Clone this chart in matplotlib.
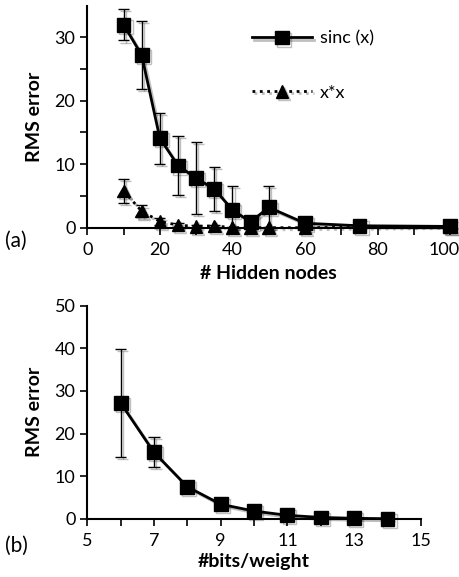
import numpy as np
import matplotlib
matplotlib.use("Agg")
import matplotlib.pyplot as plt
import matplotlib.patheffects as pe
from matplotlib.transforms import ScaledTranslation

plt.rcParams["font.family"] = ["Lato", "DejaVu Sans"]

# panel (a)
nodos = [10, 15, 20, 25, 30, 35, 40, 45, 50, 60, 75, 100]
sinc_err = [32.0, 27.2, 14.1, 9.8, 7.8, 6.1, 2.8, 0.9, 3.2, 0.7, 0.3, 0.2]
sinc_std = [2.5, 5.4, 4.0, 4.6, 5.7, 3.5, 3.8, 0.5, 3.4, 0.3, 0.2, 0.1]

nodos_xx = [10, 15, 20, 25, 30, 35, 40, 45, 50, 60, 100]
xx_err = [5.8, 2.6, 1.0, 0.4, 0.2, 0.3, 0.0, 0.0, 0.0, 0.0, 0.2]
xx_std = [1.9, 0.9, 0.6, 0.3, 0.2, 0.2, 0.1, 0.1, 0.1, 0.1, 0.1]

# panel (b)
bits = [6, 7, 8, 9, 10, 11, 12, 13, 14]
bits_err = [27.2, 15.6, 7.5, 3.4, 1.8, 0.8, 0.3, 0.1, 0.0]
bits_std = [12.6, 3.5, 0.3, 0.2, 0.2, 0.1, 0.1, 0.05, 0.05]

sombra = [pe.SimpleLineShadow(offset=(1.5, -1.5), alpha=0.25, rho=0.5), pe.Normal()]


def asim(y, e):
    y = np.array(y)
    e = np.array(e)
    return [np.minimum(e, y), e]


fig = plt.figure(figsize=(4.59, 5.77), dpi=100)
ax1 = fig.add_axes([0.19, 0.6054, 0.791, 0.385])
ax2 = fig.add_axes([0.19, 0.101, 0.727, 0.369])

ax1.errorbar(nodos, sinc_err, yerr=asim(sinc_err, sinc_std), color="black",
             lw=2, marker="s", ms=10, elinewidth=1, capsize=4, capthick=1,
             label="sinc (x)", path_effects=sombra, zorder=3)
ax1.errorbar(nodos_xx, xx_err, yerr=asim(xx_err, xx_std), color="black",
             lw=2, ls=":", marker="^", ms=9, elinewidth=1, capsize=4, capthick=1,
             label="x*x", path_effects=sombra, zorder=2)

ax1.set_xlim(0, 100)
ax1.set_ylim(0, 35)
ax1.set_xticks(range(0, 101, 20))
ax1.set_xticks(range(10, 101, 20), minor=True)
ax1.set_yticks([0, 10, 20, 30])
ax1.set_yticks([5, 15, 25], minor=True)
ax1.set_xlabel("# Hidden nodes", fontsize=14, fontweight="bold", labelpad=5)
ax1.set_ylabel("RMS error", fontsize=14, fontweight="bold", labelpad=8)

h, l = ax1.get_legend_handles_labels()
h = [x[0] for x in h]
ax1.legend(h, l, loc="upper left", bbox_to_anchor=(0.41, 0.96), frameon=False,
           fontsize=13, handlelength=3.3, labelspacing=2.1, handletextpad=0.45)

ax2.errorbar(bits, bits_err, yerr=asim(bits_err, bits_std), color="black",
             lw=2, marker="s", ms=10, elinewidth=1, capsize=4, capthick=1,
             path_effects=sombra, zorder=3)
ax2.set_xlim(5, 15)
ax2.set_ylim(0, 50)
ax2.set_xticks(range(5, 16, 2))
ax2.set_xticks(range(6, 15, 2), minor=True)
ax2.set_yticks(range(0, 51, 10))
ax2.set_xlabel("#bits/weight", fontsize=14, fontweight="bold", labelpad=3)
ax2.set_ylabel("RMS error", fontsize=14, fontweight="bold", labelpad=8)

for ax in (ax1, ax2):
    for s in ("top", "right"):
        ax.spines[s].set_visible(False)
    ax.spines["left"].set_linewidth(1.5)
    ax.spines["bottom"].set_linewidth(1.5)
    ax.tick_params(which="both", direction="out", width=1.2, length=5, labelsize=13)
    ax.tick_params(axis="x", pad=5)
    for e in ax.collections + ax.lines:
        e.set_clip_on(False)

# the "100" label sits a little left, as in the original
lab = ax1.xaxis.get_major_ticks()[-1].label1
lab.set_transform(lab.get_transform() + ScaledTranslation(-6 / 100, 0, fig.dpi_scale_trans))

fig.text(0.01, 0.573, "(a)", fontsize=15)
fig.text(0.01, 0.043, "(b)", fontsize=15)

fig.savefig("out.png", dpi=100)
